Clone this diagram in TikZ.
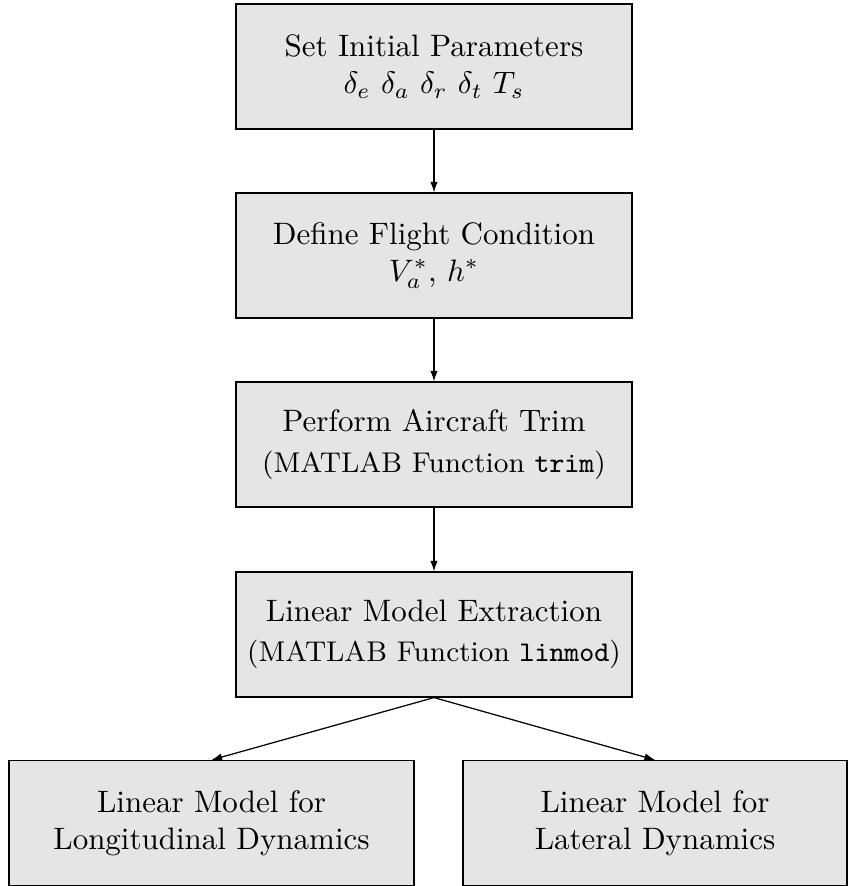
\documentclass[tikz,border=0pt]{standalone}
\usetikzlibrary{arrows.meta}
\begin{document}
\begin{tikzpicture}[x=0.3226pt,y=-0.3226pt,
  box/.style={draw=black, fill=gray!20, line width=0.4pt, align=center,
    minimum width=127.75pt, minimum height=40.3pt, inner sep=2pt},
  flow/.style={-{Latex[length=3.4pt,width=2.4pt]}, line width=0.4pt}]
\newcommand{\subline}{\fontsize{9.2pt}{11pt}\selectfont}
\useasboundingbox (0,0) rectangle (848,886);

\node[box] (init)  at (434,66.5)  {Set Initial Parameters\\ $\delta_e\ \delta_a\ \delta_r\ \delta_t\ T_s$};
\node[box] (cond)  at (434,255.5) {Define Flight Condition\\ $V_a^*$, $h^*$};
\node[box] (trim)  at (434,444.5) {Perform Aircraft Trim\\[1pt] {\subline (MATLAB Function \texttt{trim})}};
\node[box] (lin)   at (434,634.5) {Linear Model Extraction\\[1pt] {\subline (MATLAB Function \texttt{linmod})}};
\node[box, minimum width=130.65pt] (lon) at (211.5,823) {Linear Model for\\ Longitudinal Dynamics};
\node[box, minimum width=123.9pt]  (lat) at (655,823)   {Linear Model for\\ Lateral Dynamics};

\draw[flow] (init) -- (cond);
\draw[flow] (cond) -- (trim);
\draw[flow] (trim) -- (lin);
\draw[flow] (lin.south) -- (lon.north);
\draw[flow] (lin.south) -- (lat.north);
\end{tikzpicture}
\end{document}
